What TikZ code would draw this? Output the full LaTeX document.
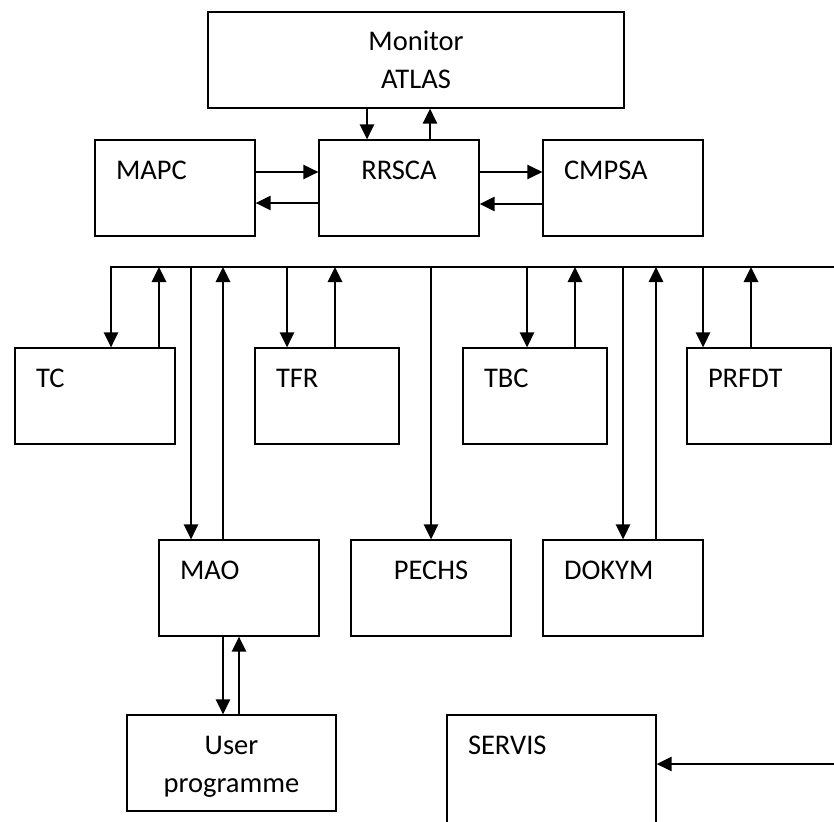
\documentclass[tikz,border=0pt]{standalone}
\usepackage{fontspec}
\setmainfont{Carlito}
\usetikzlibrary{arrows.meta}
\begin{document}
\begin{tikzpicture}[
        x=1pt, y=-1pt,
        line width=1.5pt,
        box/.style ={draw, line width=1.4pt, inner xsep=21pt, inner ysep=0pt, text height=39pt, text depth=57pt, align=left, font=\fontsize{28.5}{38}\selectfont},
        mid/.style ={box, align=center},
        boxw/.style ={text width=118pt},
        boxn/.style ={text width=102pt},
        boxl/.style ={text width=167pt},
        arr/.style ={-{Triangle[length=15pt,width=14.5pt]}},
    ]
    \useasboundingbox (0,0) rectangle (834,821);

    \node[mid, text width=374pt] (monitor) at (416,60) {Monitor\\ATLAS};
    \node[box, boxw] (mapc) at (175,188) {MAPC};
    \node[mid, boxw] (rrsca) at (399,188) {RRSCA};
    \node[box, boxw] (cmpsa) at (623,188) {CMPSA};

    \node[box, boxw] (tc) at (95,396) {TC};
    \node[box, boxn] (tfr) at (327,396) {TFR};
    \node[box, boxn] (tbc) at (535,396) {TBC};
    \node[box, boxn] (prfdt) at (759,396) {PRFDT};

    \node[box, boxw] (mao) at (239,588) {MAO};
    \node[mid, boxw] (pechs) at (431,588) {PECHS};
    \node[box, boxw] (dokym) at (623,588) {DOKYM};

    \node[mid, boxl] (user) at (231.5,763) {User\\programme};
    \node[box, boxl, text depth=81pt] (servis) at (551.5,775) {SERVIS};

    \coordinate (busl) at (111,267);
    \coordinate (busr) at (840,267);
    \coordinate (srv) at (840,764);

    % monitor and its neighbours
    \draw[arr] (367,0 |- monitor.south) -- (367,0 |- rrsca.north);
    \draw[arr] (430,0 |- rrsca.north) -- (430,0 |- monitor.south);
    \draw[arr] (mapc.east |- 0,172) -- (rrsca.west |- 0,172);
    \draw[arr] (rrsca.west |- 0,203) -- (mapc.east |- 0,203);
    \draw[arr] (rrsca.east |- 0,172) -- (cmpsa.west |- 0,172);
    \draw[arr] (cmpsa.west |- 0,204) -- (rrsca.east |- 0,204);

    % bus
    \draw[arr] (busr) -- (busl) -- (busl |- tc.north);
    \draw[arr] (159,0 |- tc.north) -- (159,0 |- busl);
    \draw[arr] (191,0 |- busl) -- (191,0 |- mao.north);
    \draw[arr] (223,0 |- mao.north) -- (223,0 |- busl);
    \draw[arr] (287,0 |- busl) -- (287,0 |- tfr.north);
    \draw[arr] (335,0 |- tfr.north) -- (335,0 |- busl);
    \draw[arr] (busl -| pechs.north) -- (pechs.north);
    \draw[arr] (527,0 |- busl) -- (527,0 |- tbc.north);
    \draw[arr] (575,0 |- tbc.north) -- (575,0 |- busl);
    \draw[arr] (busl -| dokym.north) -- (dokym.north);
    \draw[arr] (656,0 |- dokym.north) -- (656,0 |- busl);
    \draw[arr] (703,0 |- busl) -- (703,0 |- prfdt.north);
    \draw[arr] (751,0 |- prfdt.north) -- (751,0 |- busl);

    % user programme and servis
    \draw[arr] (223,0 |- mao.south) -- (223,0 |- user.north);
    \draw[arr] (239,0 |- user.north) -- (239,0 |- mao.south);
    \draw[arr] (srv) -- (servis.east |- srv);
\end{tikzpicture}
\end{document}
